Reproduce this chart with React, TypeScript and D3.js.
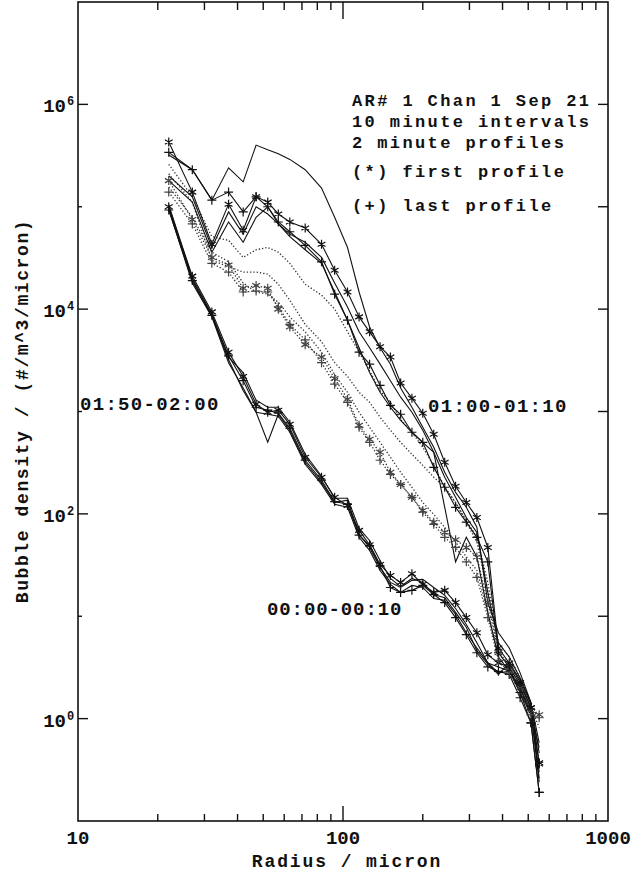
import React from 'react';
import * as d3 from 'd3';

// radius bins (micron), shared by every profile
const radius = [22, 27, 32, 37, 42, 47, 52, 57, 63, 72, 83, 93, 104, 115, 126, 138, 151, 165, 182, 200, 220, 242, 266, 292, 320, 352, 386, 424, 466, 512, 550];

// lowest solid bundle (5 two-minute profiles)
const lowFirst = [1.0e5, 2.1e4, 9.4e3, 3.8e3, 2.2e3, 1.18e3, 984, 1.03e3, 750, 357, 228, 145, 121, 69, 50, 32, 25, 21.4, 26, 20.5, 17.1, 17.9, 13.6, 9.7, 6.9, 4.2, 3.5, 3.2, 2.15, 1.28, 0.37];
const lowP2 = [9.5e4, 1.8e4, 8.4e3, 3.0e3, 1.7e3, 984, 500, 940, 656, 319, 203, 129, 136, 63, 47, 30, 21.4, 19.1, 22.4, 22.9, 19.1, 16.0, 11.9, 8.3, 5.5, 3.5, 2.8, 2.9, 2.0, 1.2, 0.24];
const lowP3 = [1.05e5, 2.0e4, 8.9e3, 3.4e3, 2.4e3, 1.29e3, 1.1e3, 1.1e3, 785, 382, 233, 142, 142, 72, 55, 35, 23.4, 19.5, 23.4, 21.4, 16.3, 15.2, 10.9, 7.8, 4.6, 3.4, 2.7, 3.5, 2.4, 1.37, 0.26];
const lowP4 = [9.7e4, 1.9e4, 8.5e3, 3.2e3, 1.6e3, 984, 940, 899, 627, 305, 194, 124, 116, 59, 44, 28, 20.5, 17.1, 20, 19.1, 14.9, 14.3, 10.4, 6.9, 4.9, 3.5, 3.2, 2.9, 1.8, 1.09, 0.52];
const lowLast = [9.3e4, 1.9e4, 8.7e3, 3.5e3, 2.0e3, 1.1e3, 1.03e3, 962, 686, 334, 213, 132, 124, 62, 49, 31, 19.1, 17.1, 17.9, 20, 16.3, 13.6, 9.7, 6.6, 4.4, 3.2, 2.9, 2.7, 1.6, 0.91, 0.19];

// upper solid bundle
const highFirst = [4.3e5, 1.39e5, 4.3e4, 1.06e5, 5.9e4, 1.25e5, 1.11e5, 8.5e4, 7.1e4, 6.2e4, 4.3e4, 2.4e4, 1.47e4, 8.4e3, 6.0e3, 4.3e3, 3.4e3, 1.9e3, 1.35e3, 962, 600, 319, 186, 129, 92, 47, 4.9, 3.5, 2.25, 1.28, 0.36];
const highP2 = [2.0e5, 1.25e5, 4.0e4, 8.9e4, 5.4e4, 1.0e5, 8.5e4, 6.8e4, 5.4e4, 4.5e4, 3.2e4, 1.8e4, 1.05e4, 6.0e3, 4.2e3, 2.9e3, 2.0e3, 1.38e3, 984, 656, 399, 228, 145, 92, 66, 17.1, 5.5, 4.0, 2.5, 1.43, 0.46];
const highP3 = [3.2e5, 2.3e5, 1.16e5, 2.4e5, 1.75e5, 4.0e5, 3.6e5, 3.3e5, 2.9e5, 2.3e5, 1.52e5, 7.9e4, 4.0e4, 1.47e4, 6.7e3, 4.2e3, 2.9e3, 1.7e3, 1.1e3, 702, 447, 255, 162, 116, 74, 13.6, 6.9, 4.9, 2.8, 1.43, 0.58];
const highP4 = [1.8e5, 1.11e5, 3.6e4, 7.1e4, 4.5e4, 7.9e4, 1.0e5, 6.8e4, 5.1e4, 3.8e4, 2.8e4, 1.47e4, 7.8e3, 4.2e3, 2.4e3, 1.54e3, 1.1e3, 821, 627, 500, 399, 116, 34, 59, 38, 10.9, 4.0, 2.9, 2.0, 1.09, 0.30];
const highLast = [3.4e5, 2.3e5, 1.16e5, 1.39e5, 8.9e4, 1.25e5, 1.0e5, 7.1e4, 5.7e4, 4.2e4, 2.9e4, 1.4e4, 7.8e3, 3.8e3, 2.9e3, 1.8e3, 1.15e3, 940, 627, 500, 285, 182, 116, 83, 59, 34, 4.4, 3.2, 1.8, 0.91, 0.19];

// dotted bundle in between
const dotFirst = [1.8e5, 7.5e4, 3.2e4, 2.7e4, 1.6e4, 1.7e4, 1.6e4, 1.0e4, 6.7e3, 4.5e3, 3.4e3, 2.1e3, 1.32e3, 734, 535, 399, 255, 194, 145, 108, 83, 66, 56, 47, 38, 13.6, 4.4, 3.2, 2.0, 1.2, 1.09];
const dotP2 = [2.6e5, 1.25e5, 5.1e4, 4.7e4, 3.2e4, 3.8e4, 4.0e4, 3.6e4, 2.8e4, 1.75e4, 1.37e4, 1.0e4, 6.0e3, 3.8e3, 2.5e3, 1.6e3, 1.23e3, 840, 627, 447, 298, 182, 129, 86, 59, 21.4, 5.5, 4.0, 2.5, 1.43, 1.02];
const dotP3 = [2.1e5, 1.11e5, 3.0e4, 2.6e4, 2.3e4, 2.3e4, 2.2e4, 1.75e4, 1.22e4, 7.1e3, 4.8e3, 3.0e3, 2.2e3, 1.54e3, 1.23e3, 879, 656, 500, 382, 298, 228, 182, 129, 83, 53, 17.1, 4.4, 3.4, 2.25, 1.28, 0.82];
const dotP4 = [1.56e5, 7.9e4, 3.6e4, 2.9e4, 1.8e4, 1.47e4, 1.4e4, 1.17e4, 8.4e3, 6.0e3, 3.8e3, 2.3e3, 1.54e3, 984, 702, 500, 357, 255, 182, 129, 99, 74, 53, 38, 28, 10.9, 4.0, 2.9, 1.9, 1.15, 1.09];
const dotLast = [1.39e5, 6.8e4, 2.8e4, 2.3e4, 1.47e4, 1.5e4, 1.47e4, 1.05e4, 7.1e3, 5.0e3, 3.0e3, 1.85e3, 1.23e3, 702, 500, 334, 243, 194, 145, 104, 79, 59, 47, 34, 24, 9.7, 3.7, 2.8, 1.8, 1.09, 1.02];

const xMinorTicks = [20, 30, 40, 50, 60, 70, 80, 90, 200, 300, 400, 500, 600, 700, 800, 900];
const xLabels = ['10', '100', '1000'];
const yDecades = [1, 10, 100, 1e3, 1e4, 1e5, 1e6];
const yLabelExp = [0, 2, 4, 6];

const titleLines = ['AR# 1 Chan 1 Sep 21', '10 minute intervals', '2 minute profiles'];
const noteLines = ['(*) first profile', '(+) last profile'];

const FONT = "'Liberation Mono', 'DejaVu Sans Mono', monospace";
const INK = '#111';

const profiles = [
  { values: lowP2, dotted: false, mark: '' },
  { values: lowP3, dotted: false, mark: '' },
  { values: lowP4, dotted: false, mark: '' },
  { values: lowFirst, dotted: false, mark: '*' },
  { values: lowLast, dotted: false, mark: '+' },
  { values: dotP2, dotted: true, mark: '' },
  { values: dotP3, dotted: true, mark: '' },
  { values: dotP4, dotted: true, mark: '' },
  { values: dotFirst, dotted: true, mark: '*' },
  { values: dotLast, dotted: true, mark: '+' },
  { values: highP2, dotted: false, mark: '' },
  { values: highP3, dotted: false, mark: '' },
  { values: highP4, dotted: false, mark: '' },
  { values: highFirst, dotted: false, mark: '*' },
  { values: highLast, dotted: false, mark: '+' },
];

function markerPath(cx: number, cy: number, kind: string) {
  const r = 4.5;
  if (kind === '+') {
    return `M${cx - r},${cy}L${cx + r},${cy}M${cx},${cy - r}L${cx},${cy + r}`;
  }
  // asterisk: vertical plus two diagonals
  const dx = r * Math.cos(Math.PI / 6);
  const dy = r * Math.sin(Math.PI / 6);
  return `M${cx},${cy - r}L${cx},${cy + r}M${cx - dx},${cy - dy}L${cx + dx},${cy + dy}M${cx - dx},${cy + dy}L${cx + dx},${cy - dy}`;
}

export default function App() {
  const left = 78, right = 608, top = 2, bottom = 821;

  const x = d3.scaleLog().domain([10, 1000]).range([left, right]);
  const y = d3.scaleLog().domain([0.1, 1e7]).range([bottom, top]);

  const line = d3
    .line<number>()
    .x((_, i) => x(radius[i]))
    .y((d) => y(d));

  return (
    <svg
      width={633}
      height={872}
      style={{ position: 'absolute', left: 0, top: 0, background: '#fff' }}
      fontFamily={FONT}
      fontWeight="bold"
      fill={INK}
    >
      <rect x={0} y={0} width={633} height={872} fill="#fff" />

      {/* profiles */}
      <g fill="none">
        {profiles.map((p, i) => (
          <path
            key={i}
            d={line(p.values) || ''}
            stroke={p.dotted ? '#333' : INK}
            strokeWidth={p.dotted ? 1.3 : 1.1}
            strokeDasharray={p.dotted ? '1.3,2' : undefined}
          />
        ))}
        {profiles
          .filter((p) => p.mark)
          .map((p, i) => (
            <path
              key={'m' + i}
              d={p.values.map((v, j) => markerPath(x(radius[j]), y(v), p.mark)).join('')}
              stroke={p.dotted ? '#444' : INK}
              strokeWidth={1.2}
            />
          ))}
      </g>

      {/* frame */}
      <rect x={left} y={top} width={right - left} height={bottom - top} fill="none" stroke={INK} strokeWidth={1.6} />

      {/* x ticks */}
      <g stroke={INK} strokeWidth={1.4}>
        {xMinorTicks.map((t) => (
          <g key={t}>
            <line x1={x(t)} x2={x(t)} y1={bottom} y2={bottom - 7} />
            <line x1={x(t)} x2={x(t)} y1={top} y2={top + 8} />
          </g>
        ))}
        <line x1={x(100)} x2={x(100)} y1={bottom} y2={bottom - 15} />
        <line x1={x(100)} x2={x(100)} y1={top} y2={top + 17} />
      </g>

      {/* y ticks */}
      <g stroke={INK} strokeWidth={1.4}>
        {yDecades.map((t, i) => (
          <g key={t}>
            <line x1={left} x2={left + (i % 2 === 0 ? 10 : 4)} y1={y(t)} y2={y(t)} />
            <line x1={right} x2={right - 10} y1={y(t)} y2={y(t)} />
          </g>
        ))}
      </g>

      {/* x tick labels */}
      {xLabels.map((l) => (
        <text key={l} x={x(+l)} y={844} textAnchor="middle" fontSize={19}>
          {l}
        </text>
      ))}

      {/* y tick labels */}
      {yLabelExp.map((e) => (
        <g key={e}>
          <text x={66} y={y(10 ** e) + 8} textAnchor="end" fontSize={19}>
            10
          </text>
          <text x={67} y={y(10 ** e) + 1} fontSize={12}>
            {e}
          </text>
        </g>
      ))}

      {/* axis titles */}
      <text x={347} y={867} textAnchor="middle" fontSize={18} letterSpacing={1.9}>
        Radius / micron
      </text>
      <text
        transform="translate(28,411) rotate(-90)"
        textAnchor="middle"
        fontSize={18}
        letterSpacing={1.6}
      >
        Bubble density / (#/m^3/micron)
      </text>

      {/* header */}
      {titleLines.map((t, i) => (
        <text key={t} x={352} y={[106, 127, 148][i]} fontSize={17} letterSpacing={2.4}>
          {t}
        </text>
      ))}
      {noteLines.map((t, i) => (
        <text key={t} x={352} y={[177, 211][i]} fontSize={17} letterSpacing={2.4}>
          {t}
        </text>
      ))}

      {/* interval labels */}
      <text x={80} y={410} fontSize={19} letterSpacing={1.3}>
        01:50-02:00
      </text>
      <text x={428} y={412} fontSize={19} letterSpacing={1.3}>
        01:00-01:10
      </text>
      <text x={267} y={615} fontSize={19} letterSpacing={0.9}>
        00:00-00:10
      </text>
    </svg>
  );
}
